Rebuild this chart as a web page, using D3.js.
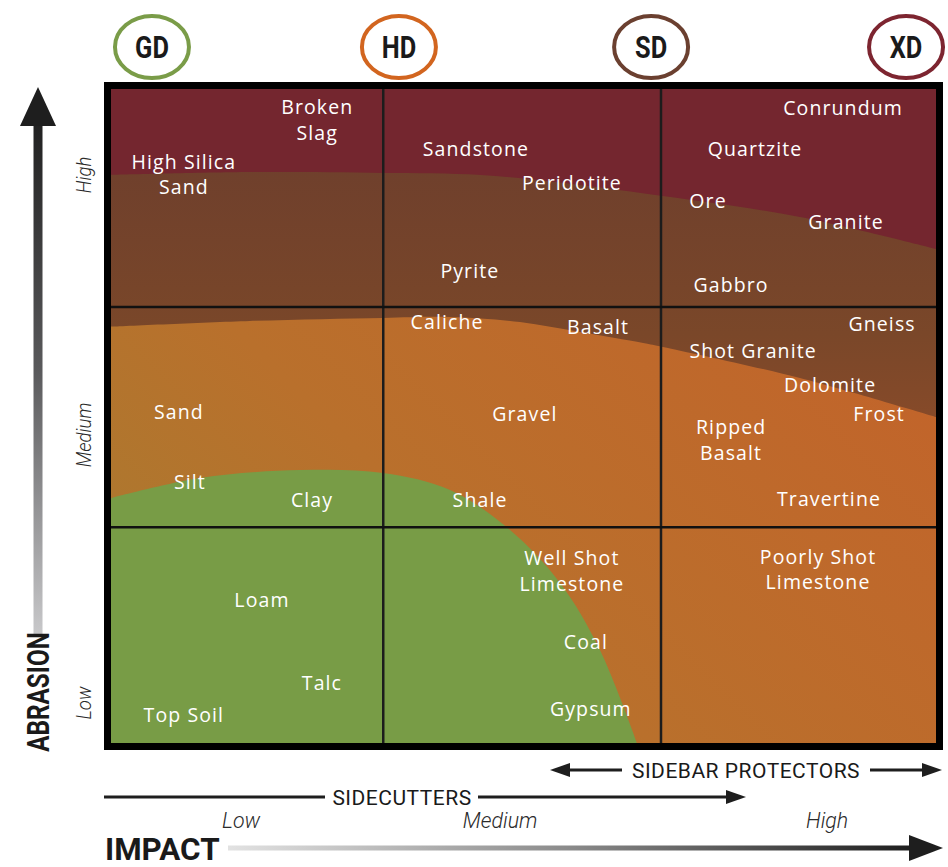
<!DOCTYPE html>
<html>
<head>
<meta charset="utf-8">
<script src="https://cdn.jsdelivr.net/npm/d3@7"></script>
<style>
  body { margin: 0; background: #fff; }
  svg { display: block; }
  .mat { fill: #fff; font-family: "Open Sans", sans-serif; font-size: 19.5px; font-weight: 500; letter-spacing: 1.1px; text-anchor: middle; }
  .cond { font-family: Roboto, "Liberation Sans", sans-serif; }
</style>
</head>
<body>
<svg id="chart"></svg>
<script>
const width = 948;
const height = 867;

// materials placed by impact (0-3) and abrasion (0-3)
const materials = ["Broken\nSlag", "High Silica\nSand", "Sandstone", "Peridotite", "Pyrite",
  "Conrundum", "Quartzite", "Ore", "Granite", "Gabbro",
  "Caliche", "Basalt", "Gneiss", "Shot Granite", "Dolomite", "Frost", "Ripped\nBasalt",
  "Sand", "Gravel", "Silt", "Clay", "Shale", "Travertine",
  "Well Shot\nLimestone", "Poorly Shot\nLimestone", "Loam", "Coal", "Talc", "Top Soil", "Gypsum"];
const impact = [0.75, 0.265, 1.327, 1.676, 1.305,
  2.662, 2.342, 2.171, 2.673, 2.255,
  1.222, 1.771, 2.804, 2.335, 2.615, 2.793, 2.255,
  0.247, 1.505, 0.287, 0.731, 1.342, 2.611,
  1.676, 2.571, 0.549, 1.727, 0.767, 0.265, 1.745];
const abrasion = [2.86, 2.61, 2.725, 2.569, 2.165,
  2.913, 2.725, 2.486, 2.39, 2.10,
  1.931, 1.908, 1.922, 1.798, 1.642, 1.509, 1.392,
  1.518, 1.509, 1.197, 1.115, 1.115, 1.119,
  0.789, 0.798, 0.656, 0.463, 0.275, 0.128, 0.156];

// zone edges [impact, abrasion]
const redEdge = [[0, 2.606], [0.505, 2.619], [0.989, 2.615], [1.345, 2.606], [1.705, 2.56], [2.007, 2.509], [2.505, 2.413], [3.0, 2.266]];
const brownEdge = [[0, 1.91], [0.505, 1.936], [0.989, 1.95], [1.233, 1.954], [1.487, 1.931], [1.705, 1.885], [1.935, 1.835], [2.007, 1.817], [2.505, 1.674], [3.0, 1.495]];
const greenEdge = [[0, 1.124], [0.324, 1.216], [0.687, 1.252], [0.989, 1.239], [1.233, 1.161], [1.451, 0.977], [1.633, 0.734], [1.778, 0.427], [1.913, 0]];

const dividers = [0.99, 2.0];
const yDividers = [0.99, 2.0];

const badges = ["GD", "HD", "SD", "XD"];
const badgePos = [0.149, 1.047, 1.964, 2.891];
const badgeColors = ["#7a9c48", "#d2651f", "#6b4030", "#7d2530"];

const impactLevels = ["Low", "Medium", "High"];
const impactLevelPos = [0.473, 1.415, 2.604];
const abrasionLevels = ["High", "Medium", "Low"];
const abrasionLevelPos = [2.606, 1.413, 0.183];

const svg = d3.select("#chart").attr("width", width).attr("height", height);

const x0 = 111, x1 = 936, y0 = 89, y1 = 743;
const x = d3.scaleLinear().domain([0, 3]).range([x0, x1]);
const y = d3.scaleLinear().domain([0, 3]).range([y1, y0]);

const defs = svg.append("defs");

function grad(id, x1_, y1_, x2_, y2_, stops) {
  const g = defs.append("linearGradient").attr("id", id)
    .attr("x1", x1_).attr("y1", y1_).attr("x2", x2_).attr("y2", y2_);
  stops.forEach(s => g.append("stop").attr("offset", s[0]).attr("stop-color", s[1]));
}
grad("orangeG", "100%", "20%", "0%", "100%", [[0, "#c4612a"], [0.6, "#b9702c"], [1, "#a67d30"]]);
grad("brownG", "0%", "0%", "0%", "100%", [[0, "#6a3c2e"], [0.75, "#7a4729"], [1, "#864a29"]]);
grad("vArrow", "0", "0", "0", "1", [[0, "#1e1e1e"], [0.5, "#5a5a5c"], [1, "#c8c8ca"]]);
grad("hArrow", "0", "0", "1", "0", [[0, "#e2e2e2"], [0.5, "#8a8a8a"], [1, "#1e1e1e"]]);

defs.append("clipPath").attr("id", "plotClip")
  .append("rect").attr("x", x0).attr("y", y0).attr("width", x1 - x0).attr("height", y1 - y0);

const plot = svg.append("g").attr("clip-path", "url(#plotClip)");

const edge = d3.line().x(d => x(d[0])).y(d => y(d[1])).curve(d3.curveCatmullRom);

plot.append("rect").attr("x", x0).attr("y", y0).attr("width", x1 - x0).attr("height", y1 - y0)
  .attr("fill", "url(#orangeG)");

// brown band: from top down to brown edge
plot.append("path")
  .attr("d", edge(brownEdge) + `L${x(3) + 5},${y(3) - 5}L${x(0) - 5},${y(3) - 5}Z`)
  .attr("fill", "url(#brownG)");

plot.append("path")
  .attr("d", edge(redEdge) + `L${x(3) + 5},${y(3) - 5}L${x(0) - 5},${y(3) - 5}Z`)
  .attr("fill", "#74262f");

plot.append("path")
  .attr("d", edge(greenEdge) + `L${x(0) - 5},${y(0) + 5}Z`)
  .attr("fill", "#789c46");

// grid
plot.selectAll(".vline").data(dividers).enter().append("line")
  .attr("x1", d => x(d)).attr("x2", d => x(d)).attr("y1", y0).attr("y2", y1)
  .attr("stroke", "#1c1c1c").attr("stroke-width", 2.5);
plot.selectAll(".hline").data(yDividers).enter().append("line")
  .attr("y1", d => y(d)).attr("y2", d => y(d)).attr("x1", x0).attr("x2", x1)
  .attr("stroke", "#111").attr("stroke-width", 2.5);

// frame
svg.append("rect").attr("x", x0 - 3.5).attr("y", y0 - 3.5)
  .attr("width", x1 - x0 + 7).attr("height", y1 - y0 + 7)
  .attr("fill", "none").attr("stroke", "#000").attr("stroke-width", 7);

// material labels
const labels = svg.append("g");
materials.forEach((m, i) => {
  const lines = m.split("\n");
  const t = labels.append("text").attr("class", "mat")
    .attr("x", x(impact[i]))
    .attr("y", y(abrasion[i]) + 7 - (lines.length - 1) * 12.5);
  lines.forEach((ln, j) => {
    t.append("tspan").attr("x", x(impact[i])).attr("dy", j === 0 ? 0 : 25.5).text(ln);
  });
});

// badges
badges.forEach((b, i) => {
  const cx = x(badgePos[i]);
  svg.append("ellipse").attr("cx", cx).attr("cy", 47).attr("rx", 37).attr("ry", 31)
    .attr("fill", "#fff").attr("stroke", badgeColors[i]).attr("stroke-width", 4);
  svg.append("text").attr("class", "cond")
    .attr("transform", `translate(${cx},58) scale(0.82,1)`)
    .attr("text-anchor", "middle").attr("font-weight", 700).attr("font-size", 31)
    .attr("fill", "#1a1a1a").text(b);
});

// abrasion arrow
const ax = 38;
svg.append("rect").attr("x", ax - 4.5).attr("y", 110).attr("width", 9).attr("height", 524)
  .attr("fill", "url(#vArrow)");
svg.append("path").attr("d", `M${ax},87L${ax + 18},126L${ax - 18},126Z`).attr("fill", "#1e1e1e");
svg.append("text").attr("class", "cond")
  .attr("transform", `translate(${ax + 11},692) rotate(-90) scale(0.76,1)`)
  .attr("text-anchor", "middle").attr("font-weight", 700).attr("font-size", 32)
  .attr("fill", "#1a1a1a").text("ABRASION");

abrasionLevels.forEach((l, i) => {
  svg.append("text").attr("class", "cond")
    .attr("transform", `translate(91,${y(abrasionLevelPos[i])}) rotate(-90) scale(0.88,1)`)
    .attr("text-anchor", "middle").attr("font-style", "italic").attr("font-weight", 300)
    .attr("font-size", 21).attr("fill", "#2a2a2a").text(l);
});

// bottom annotations
function arrowHead(tipX, yy, dir, len, half) {
  svg.append("path")
    .attr("d", `M${tipX},${yy}L${tipX - dir * len},${yy - half}L${tipX - dir * len},${yy + half}Z`)
    .attr("fill", "#1e1e1e");
}
function hLine(xa, xb, yy, w) {
  svg.append("line").attr("x1", xa).attr("x2", xb).attr("y1", yy).attr("y2", yy)
    .attr("stroke", "#1e1e1e").attr("stroke-width", w);
}

// sidebar protectors
hLine(565, 622, 770, 3);
arrowHead(550, 770, -1, 20, 7);
hLine(870, 925, 770, 3);
arrowHead(942, 770, 1, 20, 7);
svg.append("text").attr("class", "cond")
  .attr("transform", "translate(746,777.5)")
  .attr("text-anchor", "middle").attr("font-size", 21).attr("letter-spacing", 0.5)
  .attr("fill", "#1a1a1a").text("SIDEBAR PROTECTORS");

// sidecutters
hLine(104, 325, 797, 3);
hLine(478, 728, 797, 3);
arrowHead(746, 797, 1, 20, 7);
svg.append("text").attr("class", "cond")
  .attr("transform", "translate(402,804.5)")
  .attr("text-anchor", "middle").attr("font-size", 21).attr("letter-spacing", 0.5)
  .attr("fill", "#1a1a1a").text("SIDECUTTERS");

impactLevels.forEach((l, i) => {
  svg.append("text").attr("class", "cond")
    .attr("transform", `translate(${x(impactLevelPos[i])},828) scale(0.95,1)`)
    .attr("text-anchor", "middle").attr("font-style", "italic").attr("font-weight", 300)
    .attr("font-size", 22.5).attr("fill", "#2a2a2a").text(l);
});

// impact arrow
svg.append("rect").attr("x", 228).attr("y", 845.5).attr("width", 684).attr("height", 5)
  .attr("fill", "url(#hArrow)");
arrowHead(943, 848, 1, 34, 13);
svg.append("text").attr("class", "cond")
  .attr("transform", "translate(105,860) scale(0.98,1)")
  .attr("font-weight", 700).attr("font-size", 32).attr("fill", "#1a1a1a").text("IMPACT");
</script>
</body>
</html>
